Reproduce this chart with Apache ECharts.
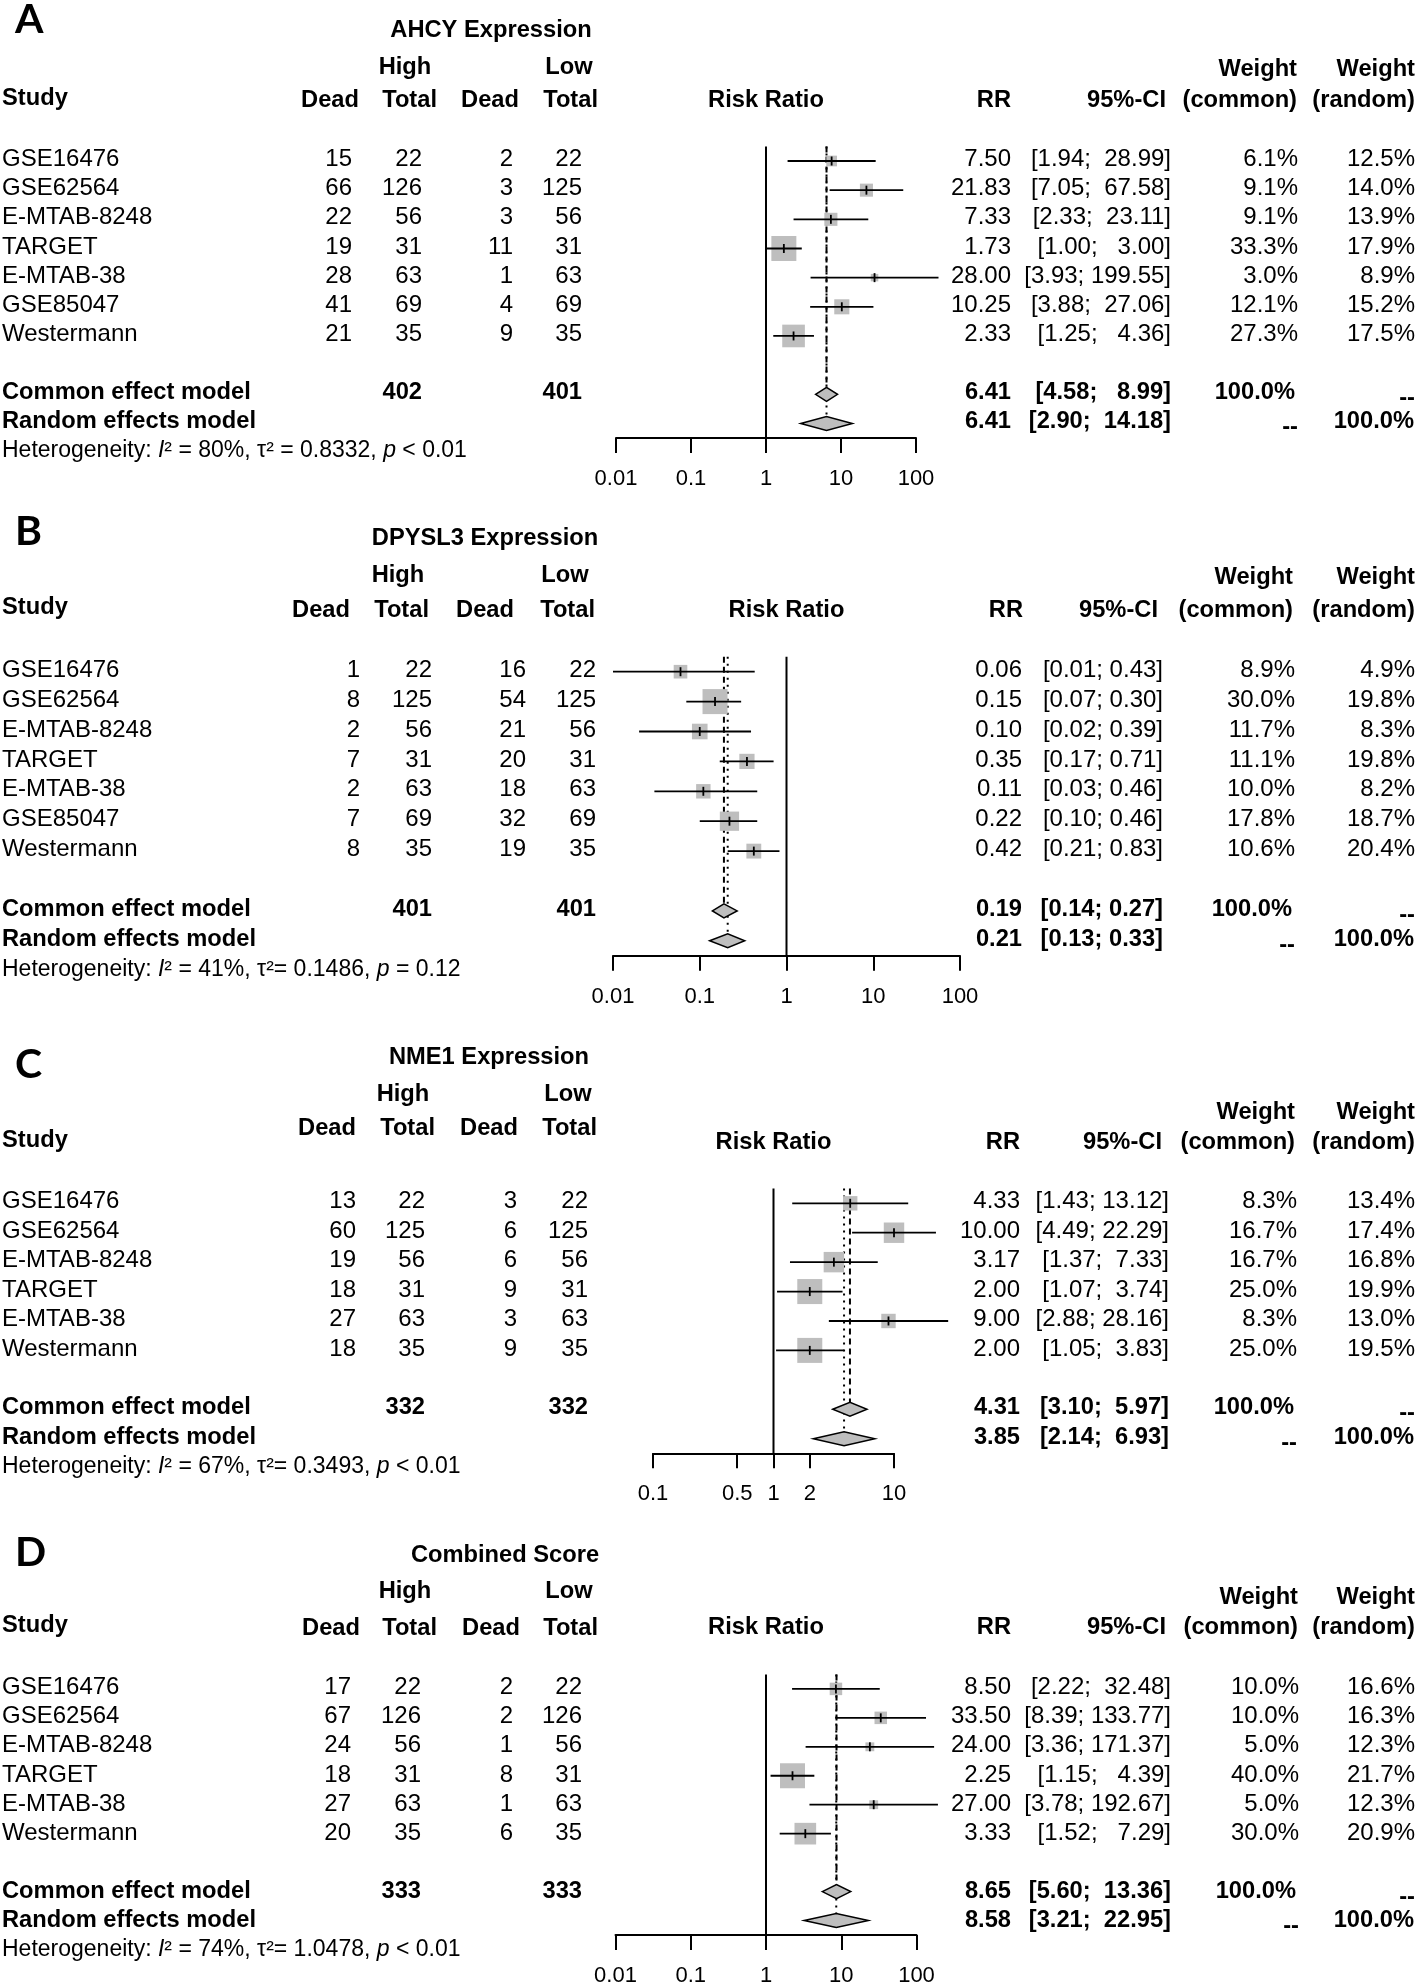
<!DOCTYPE html>
<html><head><meta charset="utf-8">
<script src="https://cdn.jsdelivr.net/npm/echarts@6/dist/echarts.min.js"></script>
<style>html,body{margin:0;padding:0;background:#fff}#c{width:1416px;height:1987px}</style>
</head><body><div id="c"></div>
<script>
// ---------------- DATA ----------------
const STUDIES_7 = ['GSE16476','GSE62564','E-MTAB-8248','TARGET','E-MTAB-38','GSE85047','Westermann'];
const STUDIES_6 = ['GSE16476','GSE62564','E-MTAB-8248','TARGET','E-MTAB-38','Westermann'];

// Panel A: AHCY Expression
const A_DEAD_HIGH = [15,66,22,19,28,41,21];
const A_TOTAL_HIGH = [22,126,56,31,63,69,35];
const A_DEAD_LOW = [2,3,3,11,1,4,9];
const A_TOTAL_LOW = [22,125,56,31,63,69,35];
const A_RR = [7.50,21.83,7.33,1.73,28.00,10.25,2.33];
const A_LOWER = [1.94,7.05,2.33,1.00,3.93,3.88,1.25];
const A_UPPER = [28.99,67.58,23.11,3.00,199.55,27.06,4.36];
const A_W_COMMON = [6.1,9.1,9.1,33.3,3.0,12.1,27.3];
const A_W_RANDOM = [12.5,14.0,13.9,17.9,8.9,15.2,17.5];
const A_COMMON = [6.41,4.58,8.99];
const A_RANDOM = [6.41,2.90,14.18];
const A_TOTALS = [402,401];
const A_HET = ['80%','τ² = 0.8332','p','< 0.01'];
const A_TICKS = [0.01,0.1,1,10,100];
const A_TICK_LABELS = ['0.01','0.1','1','10','100'];

// Panel B: DPYSL3 Expression
const B_DEAD_HIGH = [1,8,2,7,2,7,8];
const B_TOTAL_HIGH = [22,125,56,31,63,69,35];
const B_DEAD_LOW = [16,54,21,20,18,32,19];
const B_TOTAL_LOW = [22,125,56,31,63,69,35];
const B_RR = [0.06,0.15,0.10,0.35,0.11,0.22,0.42];
const B_LOWER = [0.01,0.07,0.02,0.17,0.03,0.10,0.21];
const B_UPPER = [0.43,0.30,0.39,0.71,0.46,0.46,0.83];
const B_W_COMMON = [8.9,30.0,11.7,11.1,10.0,17.8,10.6];
const B_W_RANDOM = [4.9,19.8,8.3,19.8,8.2,18.7,20.4];
const B_COMMON = [0.19,0.14,0.27];
const B_RANDOM = [0.21,0.13,0.33];
const B_TOTALS = [401,401];
const B_HET = ['41%','τ²= 0.1486','p','= 0.12'];
const B_TICKS = [0.01,0.1,1,10,100];
const B_TICK_LABELS = ['0.01','0.1','1','10','100'];

// Panel C: NME1 Expression
const C_DEAD_HIGH = [13,60,19,18,27,18];
const C_TOTAL_HIGH = [22,125,56,31,63,35];
const C_DEAD_LOW = [3,6,6,9,3,9];
const C_TOTAL_LOW = [22,125,56,31,63,35];
const C_RR = [4.33,10.00,3.17,2.00,9.00,2.00];
const C_LOWER = [1.43,4.49,1.37,1.07,2.88,1.05];
const C_UPPER = [13.12,22.29,7.33,3.74,28.16,3.83];
const C_W_COMMON = [8.3,16.7,16.7,25.0,8.3,25.0];
const C_W_RANDOM = [13.4,17.4,16.8,19.9,13.0,19.5];
const C_COMMON = [4.31,3.10,5.97];
const C_RANDOM = [3.85,2.14,6.93];
const C_TOTALS = [332,332];
const C_HET = ['67%','τ²= 0.3493','p','< 0.01'];
const C_TICKS = [0.1,0.5,1,2,10];
const C_TICK_LABELS = ['0.1','0.5','1','2','10'];

// Panel D: Combined Score
const D_DEAD_HIGH = [17,67,24,18,27,20];
const D_TOTAL_HIGH = [22,126,56,31,63,35];
const D_DEAD_LOW = [2,2,1,8,1,6];
const D_TOTAL_LOW = [22,126,56,31,63,35];
const D_RR = [8.50,33.50,24.00,2.25,27.00,3.33];
const D_LOWER = [2.22,8.39,3.36,1.15,3.78,1.52];
const D_UPPER = [32.48,133.77,171.37,4.39,192.67,7.29];
const D_W_COMMON = [10.0,10.0,5.0,40.0,5.0,30.0];
const D_W_RANDOM = [16.6,16.3,12.3,21.7,12.3,20.9];
const D_COMMON = [8.65,5.60,13.36];
const D_RANDOM = [8.58,3.21,22.95];
const D_TOTALS = [333,333];
const D_HET = ['74%','τ²= 1.0478','p','< 0.01'];
const D_TICKS = [0.01,0.1,1,10,100];
const D_TICK_LABELS = ['0.01','0.1','1','10','100'];

// ---------------- LAYOUT ----------------
const PANELS = [
  {letter:'A', title:'AHCY Expression', studies:STUDIES_7, dH:A_DEAD_HIGH, tH:A_TOTAL_HIGH, dL:A_DEAD_LOW, tL:A_TOTAL_LOW,
   rr:A_RR, lo:A_LOWER, hi:A_UPPER, wC:A_W_COMMON, wR:A_W_RANDOM, common:A_COMMON, random:A_RANDOM, totals:A_TOTALS, het:A_HET,
   ticks:A_TICKS, tickLabels:A_TICK_LABELS,
   L:{row0:161, gap:29.16, x0:616, x1:916, letterY:20, titleX:491, titleY:30, hlY:67, highX:405, lowX:569,
      hdrY:100, studyY:98, hdrCols:[359,437,519,598], numCols:[352,422,513,582],
      wY:69, h2Y:100, rrH:1011, ciH:1166, wcH:1297, rrR:1011, ciR:1171, wcR:1298}},
  {letter:'B', title:'DPYSL3 Expression', studies:STUDIES_7, dH:B_DEAD_HIGH, tH:B_TOTAL_HIGH, dL:B_DEAD_LOW, tL:B_TOTAL_LOW,
   rr:B_RR, lo:B_LOWER, hi:B_UPPER, wC:B_W_COMMON, wR:B_W_RANDOM, common:B_COMMON, random:B_RANDOM, totals:B_TOTALS, het:B_HET,
   ticks:B_TICKS, tickLabels:B_TICK_LABELS,
   L:{row0:671.7, gap:29.9, x0:613, x1:960, letterY:532, titleX:485, titleY:538, hlY:575, highX:398, lowX:565,
      hdrY:610, studyY:607, hdrCols:[350,429,514,595], numCols:[360,432,526,596],
      wY:577, h2Y:610, rrH:1023, ciH:1158, wcH:1293, rrR:1022, ciR:1163, wcR:1295}},
  {letter:'C', title:'NME1 Expression', studies:STUDIES_6, dH:C_DEAD_HIGH, tH:C_TOTAL_HIGH, dL:C_DEAD_LOW, tL:C_TOTAL_LOW,
   rr:C_RR, lo:C_LOWER, hi:C_UPPER, wC:C_W_COMMON, wR:C_W_RANDOM, common:C_COMMON, random:C_RANDOM, totals:C_TOTALS, het:C_HET,
   ticks:C_TICKS, tickLabels:C_TICK_LABELS,
   L:{row0:1203.3, gap:29.42, x0:653, x1:894, letterY:1065, titleX:489, titleY:1057, hlY:1094, highX:403, lowX:568,
      hdrY:1128, studyY:1140, hdrCols:[356,435,518,597], numCols:[356,425,517,588],
      wY:1112, h2Y:1142, rrH:1020, ciH:1162, wcH:1295, rrR:1020, ciR:1169, wcR:1297}},
  {letter:'D', title:'Combined Score', studies:STUDIES_6, dH:D_DEAD_HIGH, tH:D_TOTAL_HIGH, dL:D_DEAD_LOW, tL:D_TOTAL_LOW,
   rr:D_RR, lo:D_LOWER, hi:D_UPPER, wC:D_W_COMMON, wR:D_W_RANDOM, common:D_COMMON, random:D_RANDOM, totals:D_TOTALS, het:D_HET,
   ticks:D_TICKS, tickLabels:D_TICK_LABELS,
   L:{row0:1689, gap:29.16, x0:615.5, x1:916.5, letterY:1553, titleX:505, titleY:1555, hlY:1591, highX:405, lowX:569,
      hdrY:1628, studyY:1625, hdrCols:[360,437,520,598], numCols:[351,421,513,582],
      wY:1597, h2Y:1627, rrH:1011, ciH:1166, wcH:1298, rrR:1011, ciR:1171, wcR:1299}}
];

const FONT = '"Liberation Sans", Arial, Helvetica, sans-serif';
const W_RIGHT = 1415;
const BOX_MAX = 25;
const GRAY = '#bebebe';
const FS = 24, FSB = 23.7, FSH = 23;

function txt(x, y, s, o) {
  o = o || {};
  const al = o.align || 'left';
  const st = {text: s, fill: '#000', fontSize: o.size || (o.bold ? FSB : FS), fontWeight: o.bold ? 'bold' : 'normal',
    fontFamily: o.family || FONT, align: al, verticalAlign: 'middle', textAlign: al, textVerticalAlign: 'middle'};
  if (o.rich) st.rich = o.rich;
  return {type: 'text', x: x, y: y, silent: true, z: 10, style: st};
}
function ciStr(lo, hi, w) {
  let h = hi.toFixed(2);
  while (h.length < w) h = ' ' + h;
  return '[' + lo.toFixed(2) + '; ' + h + ']';
}

const grids = [], xAxes = [], yAxes = [], series = [], graphics = [];

PANELS.forEach((P, pi) => {
  const L = P.L, n = P.studies.length;
  const rowY = i => L.row0 + i * L.gap;
  grids.push({left: L.x0, width: L.x1 - L.x0, top: L.row0 - L.gap / 2, height: L.gap * (n + 3)});
  const ticks = P.ticks, labs = P.tickLabels;
  xAxes.push({type: 'log', logBase: 10, gridIndex: pi, min: ticks[0], max: ticks[ticks.length - 1],
    axisLine: {show: true, onZero: false, lineStyle: {color: '#000', width: 2}},
    axisTick: {show: true, length: 15, inside: false, customValues: ticks, lineStyle: {color: '#000', width: 2}},
    axisLabel: {show: true, customValues: ticks, margin: 30, fontSize: 22, color: '#000', fontFamily: FONT,
      formatter: v => { for (let k = 0; k < ticks.length; k++) if (Math.abs(Math.log10(v) - Math.log10(ticks[k])) < 1e-6) return labs[k]; return String(v); }},
    splitLine: {show: false}, minorTick: {show: false}});
  yAxes.push({type: 'value', gridIndex: pi, inverse: true, min: -0.5, max: n + 2.5, show: false});

  const wMax = Math.max.apply(null, P.wC);
  const commonRow = n + 1, randomRow = n + 2;

  // reference lines: no-effect (solid), common (dashed), random (dotted)
  series.push({type: 'custom', xAxisIndex: pi, yAxisIndex: pi, clip: false, z: 1, silent: true,
    data: [[1, 0], [P.common[0], 1], [P.random[0], 2]],
    renderItem: (params, api) => {
      const x = api.value(0), kind = api.value(1);
      const top = api.coord([x, -0.5]);
      let bot;
      if (kind === 0) bot = api.coord([x, n + 2.5])[1];
      else if (kind === 1) bot = api.coord([x, commonRow])[1] - 7;
      else bot = api.coord([x, randomRow])[1] - 7;
      const st = {stroke: '#000', lineWidth: 2, fill: null};
      if (kind === 1) st.lineDash = [6, 4];
      if (kind === 2) st.lineDash = [2, 5];
      return {type: 'line', shape: {x1: top[0], y1: top[1], x2: top[0], y2: bot}, style: st};
    }});

  // study boxes + CIs
  series.push({type: 'custom', xAxisIndex: pi, yAxisIndex: pi, clip: false, z: 3, silent: true,
    data: P.rr.map((v, i) => [v, P.lo[i], P.hi[i], i, P.wC[i]]),
    renderItem: (params, api) => {
      const c = api.coord([api.value(0), api.value(3)]);
      const l = api.coord([api.value(1), api.value(3)]);
      const h = api.coord([api.value(2), api.value(3)]);
      const s = BOX_MAX * Math.sqrt(api.value(4) / wMax);
      return {type: 'group', children: [
        {type: 'rect', shape: {x: c[0] - s / 2, y: c[1] - s / 2, width: s, height: s}, style: {fill: GRAY}},
        {type: 'line', shape: {x1: l[0], y1: c[1], x2: h[0], y2: c[1]}, style: {stroke: '#000', lineWidth: 1.8}},
        {type: 'line', shape: {x1: c[0], y1: c[1] - 4.5, x2: c[0], y2: c[1] + 4.5}, style: {stroke: '#000', lineWidth: 1.8}}
      ]};
    }});

  // diamonds
  series.push({type: 'custom', xAxisIndex: pi, yAxisIndex: pi, clip: false, z: 4, silent: true,
    data: [[P.common[0], P.common[1], P.common[2], commonRow], [P.random[0], P.random[1], P.random[2], randomRow]],
    renderItem: (params, api) => {
      const c = api.coord([api.value(0), api.value(3)]);
      const l = api.coord([api.value(1), api.value(3)]);
      const h = api.coord([api.value(2), api.value(3)]);
      return {type: 'polygon', shape: {points: [[l[0], c[1]], [c[0], c[1] - 7], [h[0], c[1]], [c[0], c[1] + 7]]},
        style: {fill: GRAY, stroke: '#000', lineWidth: 1.5}};
    }});

  // ---- texts ----
  const ty = i => rowY(i) - 1.5;
  graphics.push(txt(15, L.letterY, P.letter, {bold: true, size: 41, family: 'Lato, "Open Sans", sans-serif'}));
  graphics.push(txt(L.titleX, L.titleY, P.title, {bold: true, align: 'center'}));
  graphics.push(txt(L.highX, L.hlY, 'High', {bold: true, align: 'center'}));
  graphics.push(txt(L.lowX, L.hlY, 'Low', {bold: true, align: 'center'}));
  graphics.push(txt(2, L.studyY, 'Study', {bold: true}));
  ['Dead', 'Total', 'Dead', 'Total'].forEach((h, k) => graphics.push(txt(L.hdrCols[k], L.hdrY, h, {bold: true, align: 'right'})));
  graphics.push(txt((L.x0 + L.x1) / 2, L.h2Y, 'Risk Ratio', {bold: true, align: 'center'}));
  graphics.push(txt(L.rrH, L.h2Y, 'RR', {bold: true, align: 'right'}));
  graphics.push(txt(L.ciH, L.h2Y, '95%-CI', {bold: true, align: 'right'}));
  graphics.push(txt(L.wcH, L.wY, 'Weight', {bold: true, align: 'right'}));
  graphics.push(txt(L.wcH, L.h2Y, '(common)', {bold: true, align: 'right'}));
  graphics.push(txt(W_RIGHT, L.wY, 'Weight', {bold: true, align: 'right'}));
  graphics.push(txt(W_RIGHT, L.h2Y, '(random)', {bold: true, align: 'right'}));

  const ciW = Math.max.apply(null, P.hi.concat([P.common[2], P.random[2]]).map(v => v.toFixed(2).length));
  P.studies.forEach((s, i) => {
    const y = ty(i);
    graphics.push(txt(2, y, s));
    [P.dH[i], P.tH[i], P.dL[i], P.tL[i]].forEach((v, k) => graphics.push(txt(L.numCols[k], y, String(v), {align: 'right'})));
    graphics.push(txt(L.rrR, y, P.rr[i].toFixed(2), {align: 'right'}));
    graphics.push(txt(L.ciR, y, ciStr(P.lo[i], P.hi[i], ciW), {align: 'right'}));
    graphics.push(txt(L.wcR, y, P.wC[i].toFixed(1) + '%', {align: 'right'}));
    graphics.push(txt(W_RIGHT, y, P.wR[i].toFixed(1) + '%', {align: 'right'}));
  });
  const yc = ty(commonRow), yr = ty(randomRow);
  graphics.push(txt(2, yc, 'Common effect model', {bold: true}));
  graphics.push(txt(L.numCols[1], yc, String(P.totals[0]), {bold: true, align: 'right'}));
  graphics.push(txt(L.numCols[3], yc, String(P.totals[1]), {bold: true, align: 'right'}));
  graphics.push(txt(L.rrR, yc, P.common[0].toFixed(2), {bold: true, align: 'right'}));
  graphics.push(txt(L.ciR, yc, ciStr(P.common[1], P.common[2], ciW), {bold: true, align: 'right'}));
  graphics.push(txt(L.wcR - 3, yc, '100.0%', {bold: true, align: 'right'}));
  graphics.push(txt(W_RIGHT, yc + 6, '--', {bold: true, align: 'right'}));
  graphics.push(txt(2, yr, 'Random effects model', {bold: true}));
  graphics.push(txt(L.rrR, yr, P.random[0].toFixed(2), {bold: true, align: 'right'}));
  graphics.push(txt(L.ciR, yr, ciStr(P.random[1], P.random[2], ciW), {bold: true, align: 'right'}));
  graphics.push(txt(L.wcR, yr + 6, '--', {bold: true, align: 'right'}));
  graphics.push(txt(W_RIGHT - 1, yr, '100.0%', {bold: true, align: 'right'}));
  const h = P.het;
  graphics.push(txt(2, ty(n + 3), 'Heterogeneity: {i|I}² = ' + h[0] + ', ' + h[1] + ', {i|' + h[2] + '} ' + h[3],
    {size: FSH, rich: {i: {fontStyle: 'italic', fontSize: FSH, fontFamily: FONT, fill: '#000'}}}));
});

const chart = echarts.init(document.getElementById('c'), null, {renderer: 'canvas'});
chart.setOption({
  animation: false,
  backgroundColor: '#fff',
  grid: grids, xAxis: xAxes, yAxis: yAxes, series: series,
  graphic: {elements: graphics}
});
</script></body></html>
